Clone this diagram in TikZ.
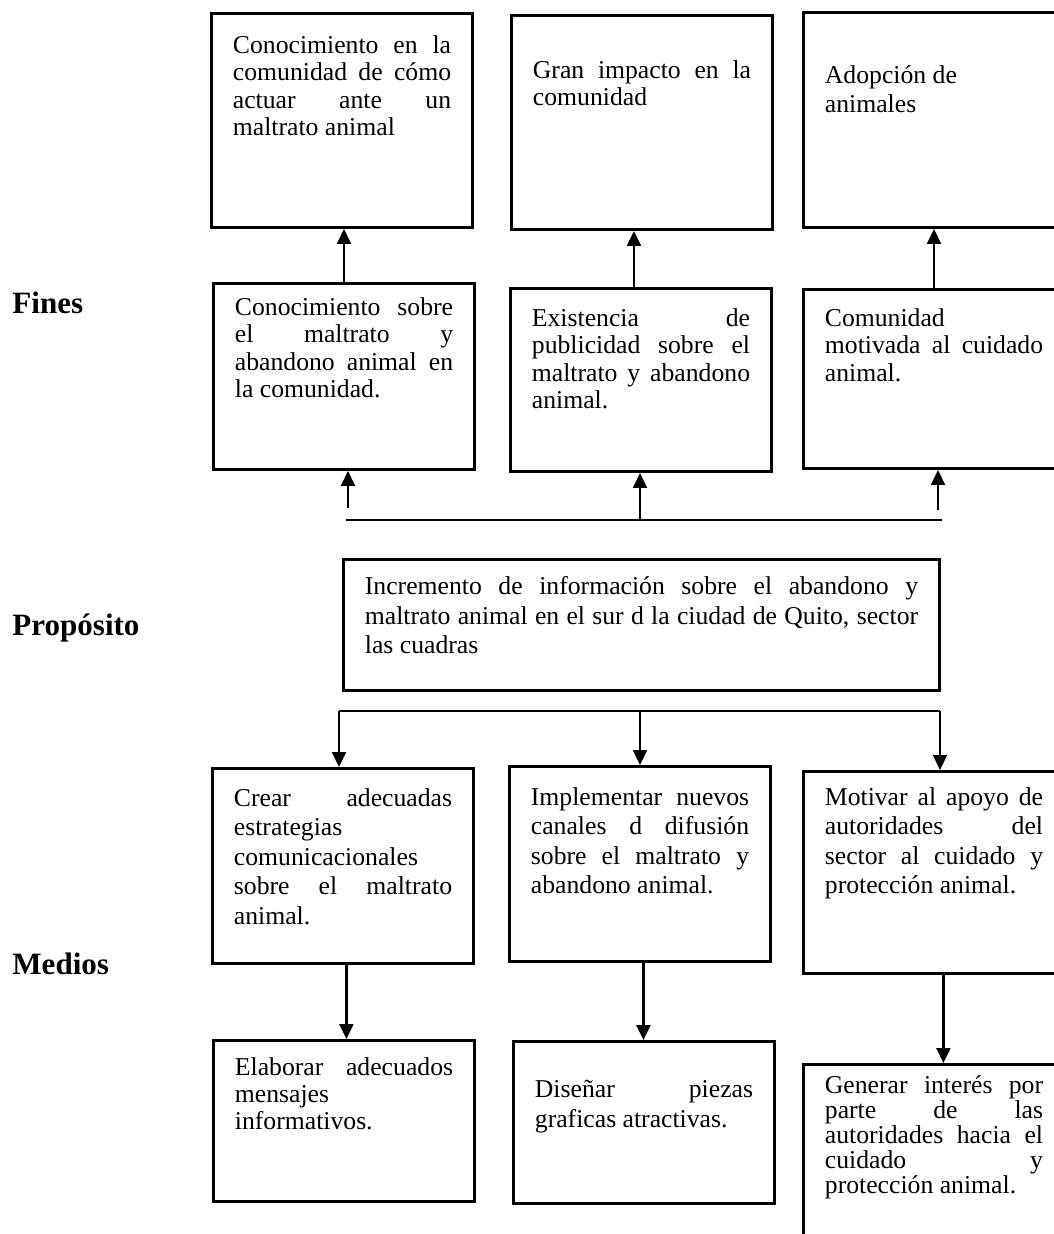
\documentclass[tikz,border=0pt]{standalone}
\usepackage{fontspec}
\setmainfont{Liberation Serif}
\usetikzlibrary{arrows.meta}

\newlength{\upx}
\setlength{\upx}{0.467pt}
% box text: [width]{height}{top gap}{text}
\newcommand{\contenido}[4][261]{\begin{minipage}[t][#2\upx][t]{\dimexpr#1\upx-20pt\relax}\vspace*{#3\upx}#4\end{minipage}}
\hyphenpenalty=10000
\tolerance=10000

\tikzset{
  recuadro/.style={draw, line width=1.4pt, inner xsep=10pt, inner ysep=0pt, anchor=north west},
  flecha/.style={line width=1.1pt, -{Triangle[length=7pt,width=6.5pt]}},
  linea/.style={line width=0.7pt},
  titulo/.style={anchor=base west, inner sep=0pt, font=\fontsize{14.5}{16}\selectfont\bfseries}
}

\begin{document}
\begin{tikzpicture}[x=0.467pt, y=-0.467pt, font=\fontsize{12}{13.8}\selectfont]
  \useasboundingbox (0,0) rectangle (1053,1234);

  \node (fines) at (12,313) [titulo]{Fines};
  \node (proposito) at (12,635) [titulo]{Propósito};
  \node (medios) at (12,974) [titulo]{Medios};

  \node (FA1) at (210,12) [recuadro]{\contenido{214}{22}{\fontsize{12}{12.8}\selectfont Conocimiento en la\linebreak comunidad de cómo\linebreak actuar ante un\linebreak maltrato animal}};
  \node (FA2) at (510,14) [recuadro]{\contenido{214}{45}{\fontsize{12}{12.8}\selectfont Gran impacto en la\linebreak comunidad}};
  \node (FA3) at (802,11) [recuadro]{\contenido{215}{53}{Adopción de\\animales}};

  \node (FB1) at (212,282) [recuadro]{\contenido{186}{14}{\fontsize{12}{12.8}\selectfont Conocimiento sobre\linebreak el maltrato y\linebreak abandono animal en\linebreak la comunidad.}};
  \node (FB2) at (509,287) [recuadro]{\contenido{183}{20}{\fontsize{12}{12.8}\selectfont Existencia de\linebreak publicidad sobre el\linebreak maltrato y abandono\linebreak animal.}};
  \node (FB3) at (802,288) [recuadro]{\contenido{179}{19}{\fontsize{12}{12.8}\selectfont Comunidad\linebreak motivada al cuidado\linebreak animal.}};

  \node (P) at (342,558) [recuadro]{\contenido[596]{131}{17}{Incremento de información sobre el abandono y\linebreak maltrato animal en el sur d la ciudad de Quito, sector\linebreak las cuadras}};

  \node (MA1) at (211,767) [recuadro]{\contenido{195}{20}{Crear adecuadas\linebreak estrategias\linebreak comunicacionales\linebreak sobre el maltrato\linebreak animal.}};
  \node (MA2) at (508,765) [recuadro]{\contenido{195}{21}{Implementar nuevos\linebreak canales d difusión\linebreak sobre el maltrato y\linebreak abandono animal.}};
  \node (MA3) at (802,770) [recuadro]{\contenido{202}{16}{Motivar al apoyo de\linebreak autoridades del\linebreak sector al cuidado y\linebreak protección animal.}};

  \node (MB1) at (212,1039) [recuadro]{\contenido{161}{17}{\fontsize{12}{12.6}\selectfont Elaborar adecuados\linebreak mensajes\linebreak informativos.}};
  \node (MB2) at (512,1040) [recuadro]{\contenido{162}{39}{Diseñar piezas\linebreak graficas atractivas.}};
  \node (MB3) at (802,1063) [recuadro]{\contenido{220}{11}{\fontsize{12}{11.7}\selectfont Generar interés por\linebreak parte de las\linebreak autoridades hacia el\linebreak cuidado y\linebreak protección animal.}};

  % fines
  \draw[flecha] (FB1.north) -- (FB1.north |- FA1.south);
  \draw[flecha] ([xshift=-3.3pt]FB2.north) -- ([xshift=-3.3pt]FB2.north |- FA2.south);
  \draw[flecha] (FB3.north) -- (FB3.north |- FA3.south);

  \coordinate (L1) at (346,520);
  \coordinate (L2) at (942,520);
  \draw[linea] (L1) -- (L2);
  \coordinate (s1) at (348,508);
  \coordinate (s2) at (640,520);
  \coordinate (s3) at (938,510);
  \draw[flecha] (s1) -- (s1 |- FB1.south);
  \draw[flecha] (s2) -- (s2 |- FB2.south);
  \draw[flecha] (s3) -- (s3 |- FB3.south);

  % medios
  \coordinate (M1) at (339,711);
  \coordinate (M2) at (640,711);
  \coordinate (M3) at (940,711);
  \draw[linea] (M1) -- (M3);
  \draw[flecha] (M1) -- (M1 |- MA1.north);
  \draw[flecha] (M2) -- (M2 |- MA2.north);
  \draw[flecha] (M3) -- (M3 |- MA3.north);

  \draw[flecha] ([xshift=1.6pt]MA1.south) -- ([xshift=1.6pt]MA1.south |- MB1.north);
  \draw[flecha] ([xshift=1.6pt]MA2.south) -- ([xshift=1.6pt]MA2.south |- MB2.north);
  \draw[flecha] ([xshift=4.4pt]MA3.south) -- ([xshift=4.4pt]MA3.south |- MB3.north);
\end{tikzpicture}
\end{document}
